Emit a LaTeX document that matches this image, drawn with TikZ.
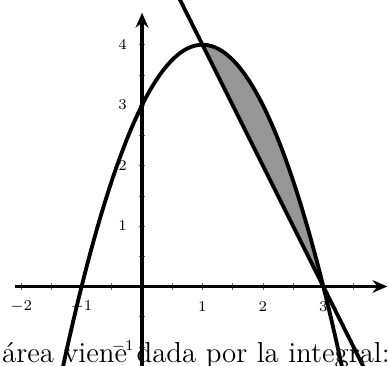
\documentclass[tikz,border=0pt]{standalone}
\usetikzlibrary{arrows.meta}
\begin{document}
\begin{tikzpicture}[x=1cm,y=1cm,
  thickline/.style={line width=1.8pt},
  axisline/.style={line width=1.8pt,-{Stealth[length=7pt,width=6pt]}},
  tickline/.style={line width=0.3pt,black!60},
  ticklabel/.style={font=\fontsize{7}{8}\selectfont,inner sep=1pt}]
\useasboundingbox (-2.35,-1.31) rectangle (4.07,4.74);
\clip (-2.35,-1.31) rectangle (4.07,4.74);
% text
\node[anchor=base west,inner sep=0pt,font=\fontsize{13.6}{16}\selectfont] (txt) at (-2.32,-1.25) {área viene dada por la integral:};
% shaded region
\fill[black!41] plot[domain=1:3,samples=40] (\x,{-(\x)*(\x)+2*(\x)+3}) -- cycle;
% ticks
\foreach \t in {-2,-1.5,...,3.5} \draw[tickline] (\t,-0.05) -- (\t,0.05);
\foreach \t in {-1,-0.5,...,4} \draw[tickline] (-0.05,\t) -- (0.05,\t);
% axes
\coordinate (xs) at (-2.1,0);
\coordinate (xe) at (4.06,0);
\coordinate (ys) at (0,-1.5);
\coordinate (ye) at (0,4.53);
\draw[axisline] (xs) -- (xe);
\draw[axisline] (ys) -- (ye);
% labels
\foreach \t/\l in {-2/$-2$,-1/$-1$,1/1,2/2,3/3} \node[ticklabel] at (\t,-0.34) {\l};
\foreach \t/\l in {-1/$-1$,1/1,2/2,3/3,4/4} \node[ticklabel] at (-0.32,\t) {\l};
% curves
\draw[thickline] plot[domain=-1.4:3.4,samples=80] (\x,{-(\x)*(\x)+2*(\x)+3});
\draw[thickline] (0.55,4.9) -- (3.7,-1.4);
\end{tikzpicture}
\end{document}
